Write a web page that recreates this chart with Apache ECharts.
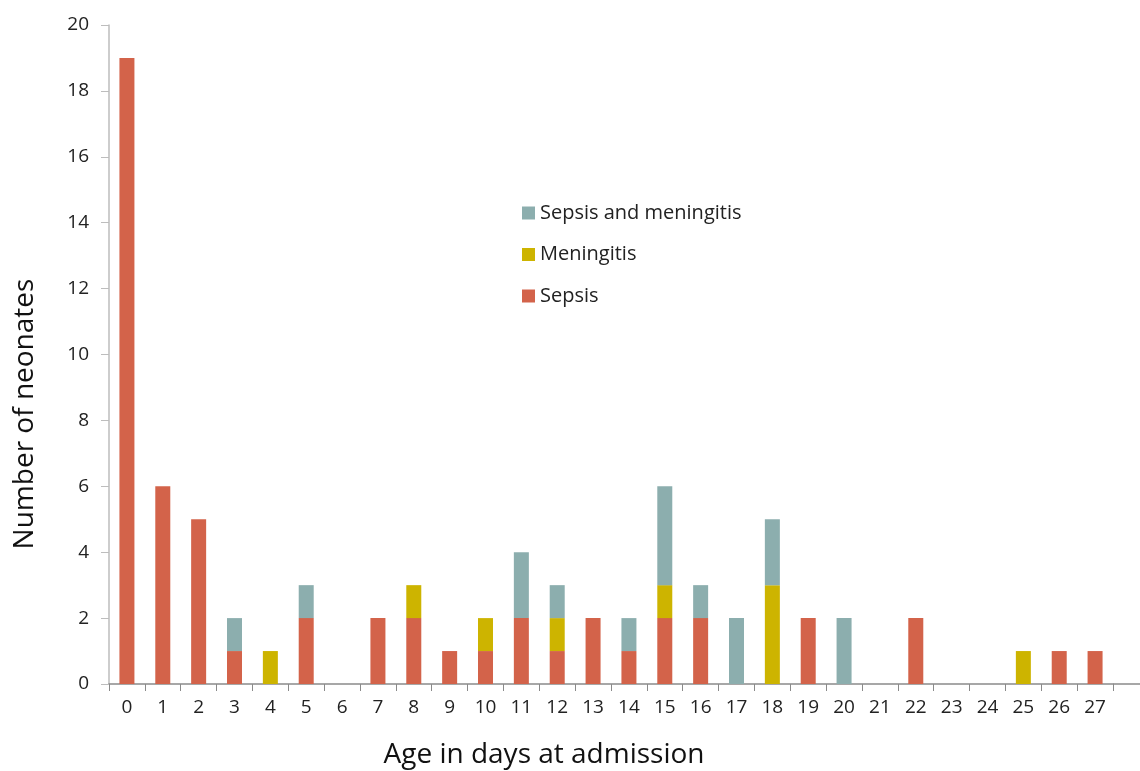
<!DOCTYPE html>
<html><head><meta charset="utf-8">
<script src="https://cdn.jsdelivr.net/npm/echarts@6/dist/echarts.min.js"></script>
<style>html,body{margin:0;padding:0;background:#fff}#c{width:1140px;height:771px}</style>
</head><body><div id="c"></div>
<script>
const days = ['0','1','2','3','4','5','6','7','8','9','10','11','12','13','14','15','16','17','18','19','20','21','22','23','24','25','26','27'];
const sepsis = [19,6,5,1,0,2,0,2,2,1,1,2,1,2,1,2,2,0,0,2,0,0,2,0,0,0,1,1];
const meningitis = [0,0,0,0,1,0,0,0,1,0,1,0,1,0,0,1,0,0,3,0,0,0,0,0,0,1,0,0];
const both = [0,0,0,1,0,1,0,0,0,0,0,2,1,0,1,3,1,2,2,0,2,0,0,0,0,0,0,0];
const yTicks = [0,2,4,6,8,10,12,14,16,18,20];

const FONT = '"Open Sans", "Noto Sans", sans-serif';
const chart = echarts.init(document.getElementById('c'));
const barStyle = c => ({color: c, borderWidth: 0});
chart.setOption({
  animation: false,
  grid: {left: 109, right: 27, top: 25, bottom: 87, containLabel: false},
  legend: {
    orient: 'vertical', left: 517, top: 194, itemGap: 13.5, itemWidth: 13, itemHeight: 13,
    icon: 'rect',
    textStyle: {fontFamily: FONT, fontSize: 20, color: '#222', lineHeight: 28},
    data: ['Sepsis and meningitis', 'Meningitis', 'Sepsis']
  },
  xAxis: {
    type: 'category', data: days,
    axisLine: {lineStyle: {color: '#8a8a8a', width: 1.5}},
    axisTick: {show: true, length: 7, lineStyle: {color: '#8a8a8a'}},
    axisLabel: {fontFamily: FONT, fontSize: 19, color: '#222', margin: 14}
  },
  yAxis: {
    type: 'value', min: 0, max: 20, interval: 2,
    axisLine: {show: true, lineStyle: {color: '#bdbdbd', width: 1.5}},
    axisTick: {show: true, length: 8, lineStyle: {color: '#bdbdbd'}},
    splitLine: {show: false},
    axisLabel: {fontFamily: FONT, fontSize: 19, color: '#222', margin: 20,
      formatter: v => yTicks.includes(v) ? String(v) : ''}
  },
  series: [
    {name: 'Sepsis', type: 'bar', stack: 's', data: sepsis, barWidth: 15, itemStyle: barStyle('#d3634a')},
    {name: 'Meningitis', type: 'bar', stack: 's', data: meningitis, barWidth: 15, itemStyle: barStyle('#cdb400')},
    {name: 'Sepsis and meningitis', type: 'bar', stack: 's', data: both, barWidth: 15, itemStyle: barStyle('#8caeae')}
  ],
  graphic: [
    {type: 'line', shape: {x1: 1113, y1: 684, x2: 1140, y2: 684}, style: {stroke: '#8a8a8a', lineWidth: 1.5}},
    {type: 'text', x: 544, y: 755, style: {text: 'Age in days at admission', font: '28px ' + FONT, fill: '#111', align: 'center', verticalAlign: 'middle'}},
    {type: 'text', x: 25, y: 414, rotation: Math.PI / 2, style: {text: 'Number of neonates', font: '28px ' + FONT, fill: '#111', align: 'center', verticalAlign: 'middle'}}
  ]
});
</script></body></html>
